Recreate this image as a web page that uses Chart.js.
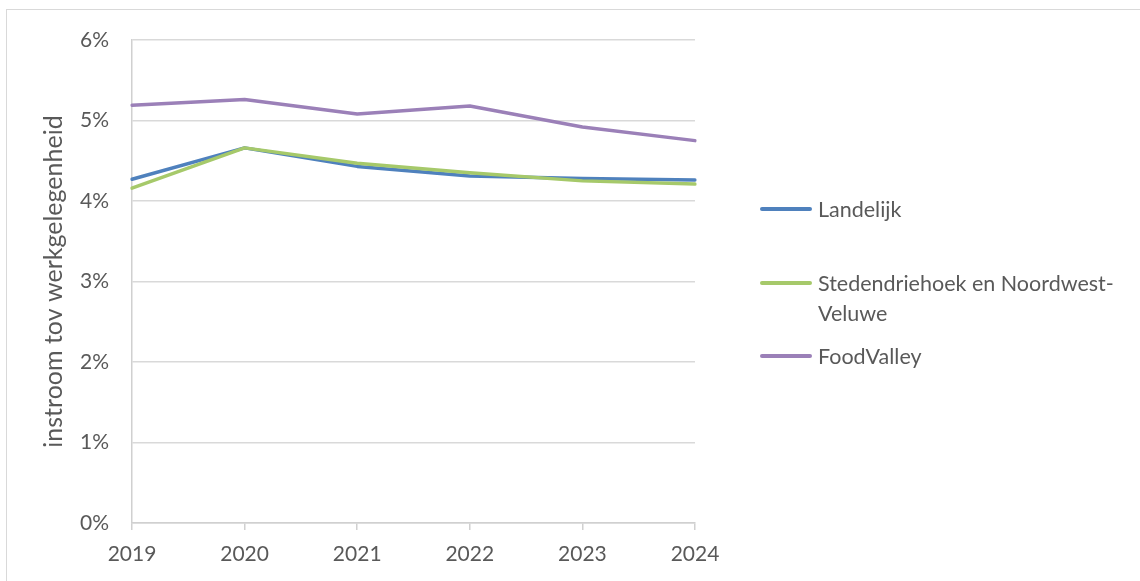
<!DOCTYPE html>
<html>
<head>
<meta charset="utf-8">
<script src="https://cdn.jsdelivr.net/npm/chart.js@4.4.1/dist/chart.umd.min.js"></script>
<style>
  html, body { margin: 0; padding: 0; width: 1140px; height: 581px; overflow: hidden; background: #fff; }
  #frame { position: absolute; left: 6px; top: 9px; width: 1200px; height: 700px; border: 1.5px solid #d9d9d9; box-sizing: border-box; }
  #wrap { position: absolute; left: 0; top: 0; width: 1140px; height: 581px; }
  #legend { position: absolute; left: 0; top: 0; font-family: Lato, "Open Sans", sans-serif; font-size: 21.5px; color: #595959; }
  .item { position: absolute; left: 760px; }
  .swatch { position: absolute; left: 0; width: 52px; height: 3.5px; border-radius: 2px; }
  .label { position: absolute; left: 58px; width: 320px; line-height: 30px; white-space: normal; }
</style>
</head>
<body>
<div id="frame"></div>
<div id="wrap"><canvas id="c" width="1140" height="581"></canvas></div>
<div id="legend"></div>
<script>
const years = ['2019', '2020', '2021', '2022', '2023', '2024'];
const landelijk = [4.27, 4.66, 4.43, 4.31, 4.28, 4.26];
const stedendriehoek = [4.16, 4.66, 4.47, 4.35, 4.25, 4.21];
const foodValley = [5.19, 5.26, 5.08, 5.18, 4.92, 4.75];
const seriesNames = ['Landelijk', 'Stedendriehoek en Noordwest-Veluwe', 'FoodValley'];
const seriesColors = ['#4f81bd', '#a6c96a', '#9b80b8'];
const yTickValues = [0, 1, 2, 3, 4, 5, 6];
const yTitle = 'instroom tov werkgelegenheid';

const FONT = 'Lato, "Open Sans", sans-serif';
const TXT = '#595959';

const data = {
  labels: years,
  datasets: [
    { label: seriesNames[0], data: landelijk, borderColor: seriesColors[0], order: 2 },
    { label: seriesNames[1], data: stedendriehoek, borderColor: seriesColors[1], order: 1 },
    { label: seriesNames[2], data: foodValley, borderColor: seriesColors[2], order: 0 }
  ].map(d => Object.assign(d, {
    borderWidth: 3.5, pointRadius: 0, pointHoverRadius: 0, tension: 0, fill: false,
    borderCapStyle: 'round', borderJoinStyle: 'round', backgroundColor: d.borderColor
  }))
};

new Chart(document.getElementById('c'), {
  type: 'line',
  data,
  options: {
    responsive: false,
    animation: false,
    events: [],
    layout: { padding: { left: 0, top: 40, right: 445, bottom: 0 } },
    plugins: { legend: { display: false }, tooltip: { enabled: false } },
    scales: {
      x: {
        offset: false,
        grid: { display: true, drawOnChartArea: false, drawTicks: true, tickLength: 7, color: '#d0d0d0', lineWidth: 1.5 },
        border: { display: true, color: '#d0d0d0', width: 1.5 },
        ticks: { color: TXT, font: { family: FONT, size: 21 }, padding: 12, maxRotation: 0, autoSkip: false },
        afterFit: s => { s.height = 58; }
      },
      y: {
        min: 0, max: 6,
        afterBuildTicks: s => { s.ticks = yTickValues.map(v => ({ value: v })); },
        grid: { color: '#d9d9d9', lineWidth: 1.5, drawTicks: false },
        border: { display: true, color: '#d0d0d0', width: 1.5 },
        ticks: { color: TXT, font: { family: FONT, size: 21 }, padding: 23, callback: v => v + '%' },
        title: { display: true, text: yTitle, color: TXT, font: { family: FONT, size: 25, weight: 'normal' }, padding: { top: 39, bottom: 0 } },
        afterFit: s => { s.width = 132; }
      }
    }
  }
});

// HTML legend built from the series arrays
const legendTops = [209, 283, 356];
const lg = document.getElementById('legend');
seriesNames.forEach((name, i) => {
  const item = document.createElement('div');
  item.className = 'item';
  item.style.top = legendTops[i] + 'px';
  const sw = document.createElement('div');
  sw.className = 'swatch';
  sw.style.background = seriesColors[i];
  sw.style.top = '-1.75px';
  const lb = document.createElement('div');
  lb.className = 'label';
  lb.style.top = '-15px';
  lb.textContent = name;
  item.appendChild(sw);
  item.appendChild(lb);
  lg.appendChild(item);
});
</script>
</body>
</html>
